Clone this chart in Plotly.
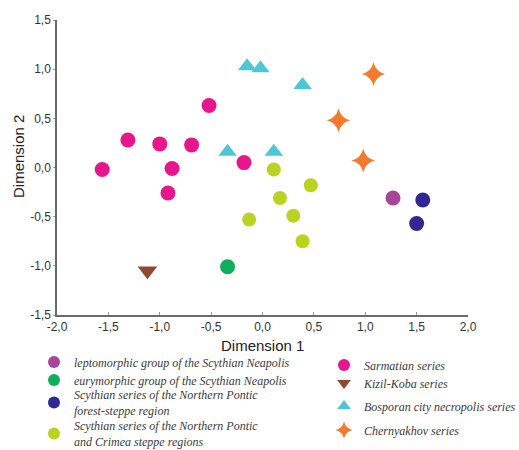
import plotly.graph_objects as go

# Multidimensional scaling coordinates of cranial series
lepto_x = [1.27]
lepto_y = [-0.31]

eury_x = [-0.34]
eury_y = [-1.01]

forest_x = [1.56, 1.50]
forest_y = [-0.33, -0.57]

steppe_x = [0.11, 0.47, 0.17, 0.30, -0.13, 0.39]
steppe_y = [-0.02, -0.18, -0.31, -0.49, -0.53, -0.75]

sarmat_x = [-1.56, -1.31, -1.00, -0.69, -0.52, -0.18, -0.88, -0.92]
sarmat_y = [-0.02, 0.28, 0.24, 0.23, 0.63, 0.05, -0.01, -0.26]

kizil_x = [-1.12]
kizil_y = [-1.05]

bospor_x = [-0.15, -0.02, 0.39, -0.34, 0.11]
bospor_y = [1.03, 1.01, 0.84, 0.16, 0.16]

chern_x = [1.08, 0.74, 0.98]
chern_y = [0.95, 0.48, 0.07]

tick_x = [-2.0, -1.5, -1.0, -0.5, 0.0, 0.5, 1.0, 1.5, 2.0]
tick_x_text = ["-2,0", "-1,5", "-1,0", "-0,5", "0,0", "0,5", "1,0", "1,5", "2,0"]
tick_y = [-1.5, -1.0, -0.5, 0.0, 0.5, 1.0, 1.5]
tick_y_text = ["-1,5", "-1,0", "-0,5", "0,0", "0,5", "1,0", "1,5"]

series = [
    ("leptomorphic group of the Scythian Neapolis", lepto_x, lepto_y, "circle", "#A8449A", 15),
    ("eurymorphic group of the Scythian Neapolis", eury_x, eury_y, "circle", "#0DAE5C", 15),
    ("Scythian series of the Northern Pontic<br>forest-steppe region", forest_x, forest_y, "circle", "#2F2894", 15),
    ("Scythian series of the Northern Pontic<br>and Crimea steppe regions", steppe_x, steppe_y, "circle", "#B9D320", 14),
    ("Sarmatian series", sarmat_x, sarmat_y, "circle", "#E8168C", 15),
    ("Kizil-Koba series", kizil_x, kizil_y, "triangle-down", "#8E4A30", 17),
    ("Bosporan city necropolis series", bospor_x, bospor_y, "triangle-up", "#4DC7D6", 16),
    ("Chernyakhov series", chern_x, chern_y, "star-diamond", "#F47A2E", 17),
]

W, H = 519, 450
ML, MR, MT, MB = 57, 51, 20, 135
PW, PH = W - ML - MR, H - MT - MB


def paper_x(px):
    return (px - ML) / PW


def paper_y(py):
    return (H - MB - py) / PH


# Each key gets its own legend box so the two key columns can be laid out freely
# (left edge, vertical centre) in pixels of the page
key_slots = [(34, 362), (34, 380), (34, 403), (34, 434),
             (324, 365), (324, 383), (324, 406), (324, 430)]

legend_font = dict(family="Liberation Serif", size=12, color="#3a3a3a", style="italic")

fig = go.Figure()
layout_legends = {}
for i, (name, xs, ys, sym, col, size) in enumerate(series):
    key = "legend" if i == 0 else f"legend{i + 1}"
    fig.add_trace(go.Scatter(
        x=xs, y=ys, mode="markers", name=name, legend=key, showlegend=True,
        marker=dict(symbol=sym, color=col, size=size, line=dict(width=0)),
    ))
    lx, ly = key_slots[i]
    layout_legends[key] = dict(
        xref="container", yref="container",
        x=lx / W, y=1 - ly / H, xanchor="left", yanchor="middle",
        font=legend_font, bgcolor="rgba(0,0,0,0)", itemsizing="constant",
    )

fig.update_layout(
    width=W, height=H, showlegend=True,
    margin=dict(l=ML, r=MR, t=MT, b=MB, autoexpand=False),
    paper_bgcolor="white", plot_bgcolor="white",
    font=dict(family="Liberation Sans", color="#333333"),
    xaxis=dict(
        range=[-2, 2], tickvals=tick_x, ticktext=tick_x_text,
        showgrid=False, zeroline=False, showline=True, linecolor="#6b6b6b", linewidth=1.5,
        ticks="inside", ticklen=3, tickcolor="#999999",
        tickfont=dict(size=12, color="#333333"),
    ),
    yaxis=dict(
        range=[-1.5, 1.5], tickvals=tick_y, ticktext=tick_y_text,
        showgrid=False, zeroline=False, showline=True, linecolor="#6b6b6b", linewidth=1.5,
        ticks="outside", ticklen=2, tickcolor="#999999",
        tickfont=dict(size=12, color="#333333"),
    ),
    annotations=[
        dict(text="Dimension 1", xref="paper", yref="paper",
             x=paper_x(262), y=paper_y(345), xanchor="center", yanchor="middle",
             showarrow=False, font=dict(size=15, color="#222222")),
        dict(text="Dimension 2", textangle=-90, xref="paper", yref="paper",
             x=paper_x(18), y=paper_y(157), xanchor="center", yanchor="middle",
             showarrow=False, font=dict(size=15, color="#222222")),
    ],
    **layout_legends,
)

fig.write_html("out.html")
